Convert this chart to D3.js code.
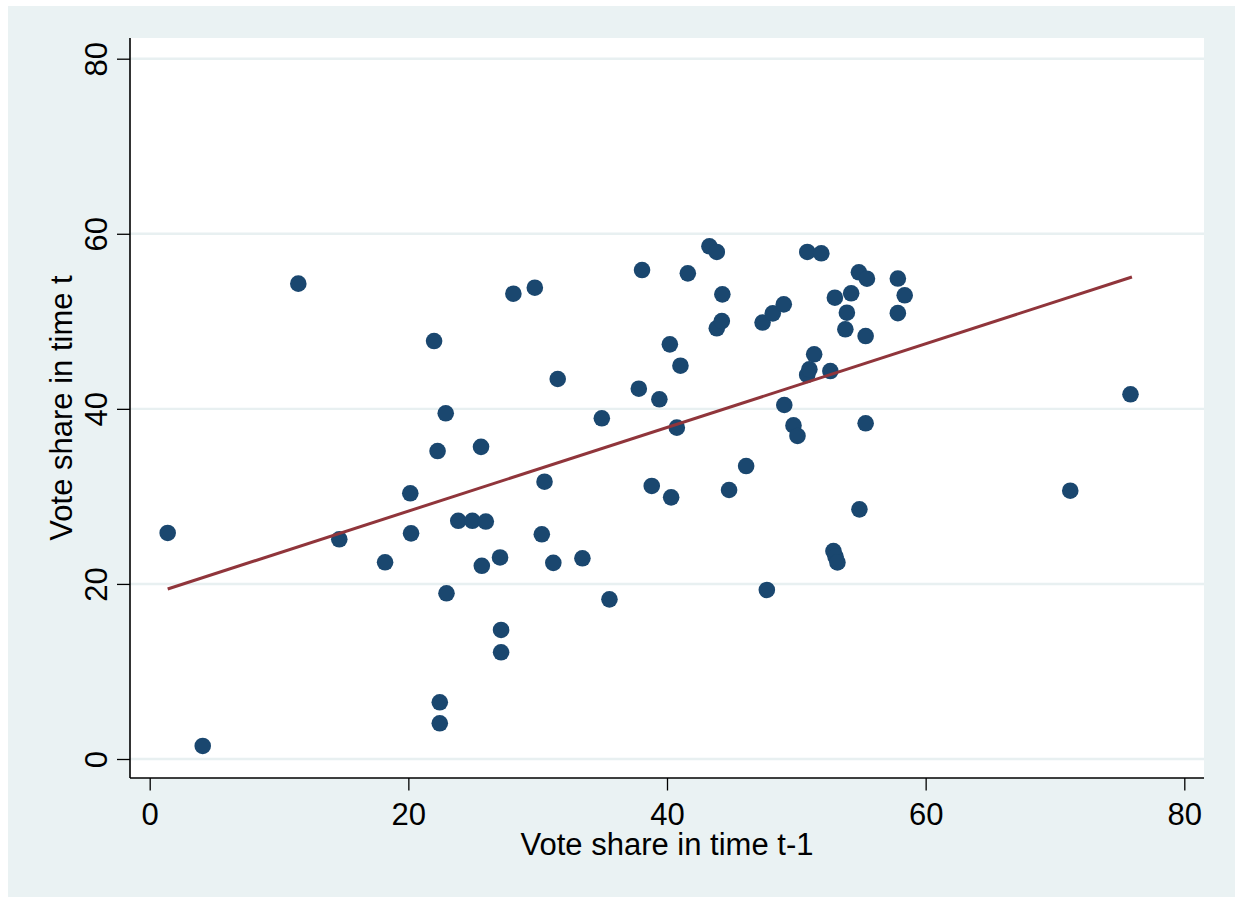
<!DOCTYPE html>
<html>
<head>
<meta charset="utf-8">
<script src="https://cdn.jsdelivr.net/npm/d3@7"></script>
<style>
  body { margin: 0; background: #ffffff; }
  svg text { font-family: "Liberation Sans", Arial, Helvetica, sans-serif; fill: #000; }
</style>
</head>
<body>
<svg width="1235" height="897"></svg>
<script>
// waarden
var voteLag = [1.39, 4.10, 11.49, 14.66, 18.20, 20.15, 20.21, 21.99, 22.26, 22.89,
    22.95, 22.43, 22.43, 23.86, 24.95, 25.99, 25.62, 25.68, 27.09, 27.17,
    27.17, 28.12, 29.78, 30.32, 30.53, 31.21, 31.55, 33.46, 34.96, 35.55,
    37.82, 38.07, 38.82, 39.41, 40.22, 40.32, 40.76, 41.04, 41.61, 43.28,
    43.85, 43.85, 44.28, 44.24, 44.80, 46.12, 47.39, 47.72, 48.18, 49.03,
    49.07, 49.78, 50.09, 50.85, 50.84, 51.01, 51.38, 51.93, 52.63, 52.98,
    52.87, 53.03, 53.18, 53.79, 53.91, 54.24, 54.84, 55.46, 55.36, 55.36,
    54.88, 57.85, 57.85, 58.38, 71.18, 75.84];
var voteNow = [25.82, 1.49, 54.30, 25.10, 22.47, 30.35, 25.78, 47.75, 35.18, 39.49,
    18.93, 6.48, 4.08, 27.21, 27.21, 27.13, 35.66, 22.07, 23.02, 14.74,
    12.19, 53.15, 53.84, 25.67, 31.68, 22.41, 43.41, 22.93, 38.92, 18.24,
    42.30, 55.86, 31.19, 41.09, 47.37, 29.89, 37.85, 44.93, 55.48, 58.57,
    57.92, 49.20, 53.08, 50.03, 30.73, 33.47, 49.86, 19.31, 50.91, 51.94,
    40.44, 38.11, 36.90, 57.92, 43.87, 44.52, 46.23, 57.77, 44.32, 52.70,
    23.76, 23.13, 22.45, 49.09, 50.98, 53.20, 55.60, 54.87, 48.32, 38.35,
    28.52, 54.89, 50.93, 52.97, 30.65, 41.66];

// lineaire fit (eindpunten)
var fitX = [1.39, 75.95];
var fitY = [19.42, 55.06];

var xTicks = [0, 20, 40, 60, 80];
var yTicks = [0, 20, 40, 60, 80];

var svg = d3.select("svg"),
    margin = { top: 38, right: 31, bottom: 119, left: 130 },
    width = +svg.attr("width") - margin.left - margin.right,
    height = +svg.attr("height") - margin.top - margin.bottom;

// achtergrond van de grafiek
svg.append("rect")
    .attr("x", 8).attr("y", 6)
    .attr("width", 1235 - 8).attr("height", 897 - 6)
    .attr("fill", "#eaf2f3");

var g = svg.append("g")
    .attr("transform", "translate(" + margin.left + "," + margin.top + ")");

g.append("rect")
    .attr("width", width)
    .attr("height", height)
    .attr("fill", "#ffffff");

var x = d3.scaleLinear().domain([0, 80]).range([19.7, 1054.3]),
    y = d3.scaleLinear().domain([0, 80]).range([721, 20.7]);

// rasterlijnen
g.selectAll(".grid")
    .data(yTicks)
    .enter().append("line")
    .attr("class", "grid")
    .attr("x1", 0)
    .attr("x2", width)
    .attr("y1", function (d) { return y(d); })
    .attr("y2", function (d) { return y(d); })
    .attr("stroke", "#e8f0f1")
    .attr("stroke-width", 2.4);

// X as
var xAxis = g.append("g")
    .attr("transform", "translate(0," + height + ")")
    .call(d3.axisBottom(x).tickValues(xTicks).tickSize(12.5).tickPadding(10));
xAxis.select(".domain").remove();
xAxis.selectAll("line").attr("stroke", "#000").attr("stroke-width", 1.3);
xAxis.selectAll("text")
    .attr("dy", 0)
    .attr("y", 47)
    .style("font-size", "31px")
    .style("font-family", "'Liberation Sans', Arial, sans-serif");

// Y as
var yAxis = g.append("g")
    .call(d3.axisLeft(y).tickValues(yTicks).tickSize(13));
yAxis.select(".domain").remove();
yAxis.selectAll("line").attr("stroke", "#000").attr("stroke-width", 1.3);
yAxis.selectAll("text")
    .attr("transform", "rotate(-90)")
    .attr("x", 0)
    .attr("y", -23)
    .attr("dy", 0)
    .attr("text-anchor", "middle")
    .style("font-size", "31px")
    .style("font-family", "'Liberation Sans', Arial, sans-serif");

// aslijnen
g.append("line")
    .attr("x1", 0).attr("x2", width)
    .attr("y1", height).attr("y2", height)
    .attr("stroke", "#000").attr("stroke-width", 1.6);
g.append("line")
    .attr("x1", 0).attr("x2", 0)
    .attr("y1", 0).attr("y2", height)
    .attr("stroke", "#000").attr("stroke-width", 1.6);

// astitels
svg.append("text")
    .attr("x", margin.left + width / 2)
    .attr("y", 855)
    .attr("text-anchor", "middle")
    .style("font-size", "31px")
    .text("Vote share in time t-1");

svg.append("text")
    .attr("transform", "translate(72," + (margin.top + height / 2) + ") rotate(-90)")
    .attr("text-anchor", "middle")
    .style("font-size", "31px")
    .text("Vote share in time t");

// punten
g.selectAll(".dot")
    .data(voteLag)
    .enter().append("circle")
    .attr("class", "dot")
    .attr("cx", function (d) { return x(d); })
    .attr("cy", function (d, i) { return y(voteNow[i]); })
    .attr("r", 8.3)
    .attr("fill", "#1a476f");

// fitlijn
g.append("path")
    .datum(fitX)
    .attr("fill", "none")
    .attr("stroke", "#90353b")
    .attr("stroke-width", 3)
    .attr("d", d3.line()
        .x(function (d) { return x(d); })
        .y(function (d, i) { return y(fitY[i]); }));
</script>
</body>
</html>
